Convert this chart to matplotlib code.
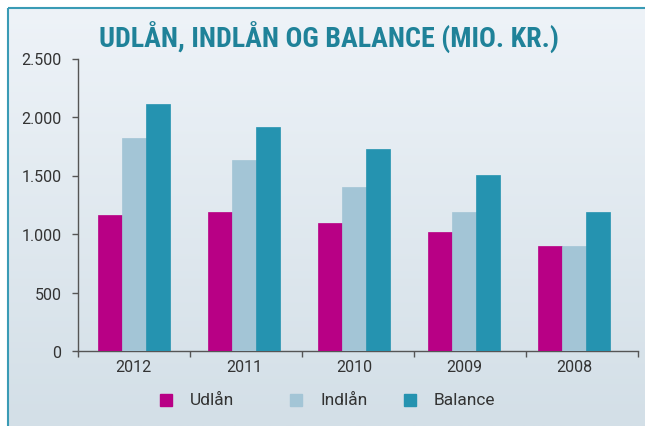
import numpy as np
import matplotlib
matplotlib.use("Agg")
import matplotlib.pyplot as plt
from matplotlib.colors import LinearSegmentedColormap
from matplotlib.patches import Rectangle

years = ["2012", "2011", "2010", "2009", "2008"]
udlaan = [1160, 1185, 1090, 1015, 895]
indlaan = [1820, 1630, 1405, 1185, 895]
balance = [2115, 1915, 1725, 1505, 1185]
series_names = ["Udlån", "Indlån", "Balance"]
y_ticks = [0, 500, 1000, 1500, 2000, 2500]
y_tick_labels = ["0", "500", "1.000", "1.500", "2.000", "2.500"]
title = "UDLÅN, INDLÅN OG BALANCE (MIO. KR.)"

colors = ["#B80085", "#A3C5D6", "#2593B0"]
text_color = "#333333"
spine_color = "#555555"

plt.rcParams["font.family"] = ["Roboto", "DejaVu Sans"]

W, H = 645, 427
fig = plt.figure(figsize=(W / 100, H / 100), dpi=100)

# background panel with gradient (pixel coordinates)
bg = fig.add_axes([0, 0, 1, 1], zorder=-10)
bg.set_xlim(0, W)
bg.set_ylim(H, 0)
bg.axis("off")
cmap = LinearSegmentedColormap.from_list("bg", ["#EEF3F8", "#D3DFE7"])
grad = np.linspace(0, 1, 256).reshape(-1, 1)
bg.imshow(grad, cmap=cmap, extent=[8, W, H, 9], aspect="auto", zorder=0)
bg.plot([8, 8], [H, 9], color="#3A9BB5", lw=1.5, zorder=2, solid_capstyle="butt")
bg.plot([8, W], [9, 9], color="#3A9BB5", lw=1.5, zorder=2, solid_capstyle="butt")

# main axes
ax = fig.add_axes([78 / W, 1 - 352 / H, (638 - 78) / W, (352 - 59.5) / H])
ax.patch.set_alpha(0)

x = np.arange(len(years))
bw = 0.218
for k, (vals, c) in enumerate(zip([udlaan, indlaan, balance], colors)):
    ax.bar(x + (k - 1) * bw, vals, width=bw, color=c, edgecolor=c, linewidth=0.5, zorder=3)

xl0, xl1 = -0.507, 4.579
ax.set_xlim(xl0, xl1)
ax.set_ylim(0, 2500)

ax.set_yticks(y_ticks)
ax.set_yticklabels(y_tick_labels)
ax.set_xticks(np.linspace(xl0, xl1, 6))
ax.set_xticklabels([])
ax.set_xticks(x, minor=True)
ax.set_xticklabels(years, minor=True)
ax.tick_params(axis="x", which="minor", length=0, pad=6, labelsize=11.5, labelcolor=text_color)
ax.tick_params(axis="x", which="major", length=4, width=1, color=spine_color, direction="out")
ax.tick_params(axis="y", length=4, width=1, color=spine_color, pad=8, labelsize=11.5, labelcolor=text_color)

for s in ["top", "right"]:
    ax.spines[s].set_visible(False)
for s in ["left", "bottom"]:
    ax.spines[s].set_color(spine_color)
    ax.spines[s].set_linewidth(1)

fig.text(329 / W, 1 - 37.5 / H, title, ha="center", va="center", fontsize=20.2,
         fontweight="bold", color="#1F8299", family=["Roboto Condensed", "Roboto", "DejaVu Sans"])

# legend, drawn in pixel coordinates
leg_marker_x = [160, 290, 404]
leg_text_x = [190, 320, 434]
leg_y = 401
for mx, tx, name, c in zip(leg_marker_x, leg_text_x, series_names, colors):
    bg.add_patch(Rectangle((mx, leg_y - 6), 12, 12, color=c, zorder=3))
    bg.text(tx, leg_y, name, ha="left", va="center", fontsize=12.5, color=text_color, zorder=3)

fig.savefig("out.png", dpi=100)
